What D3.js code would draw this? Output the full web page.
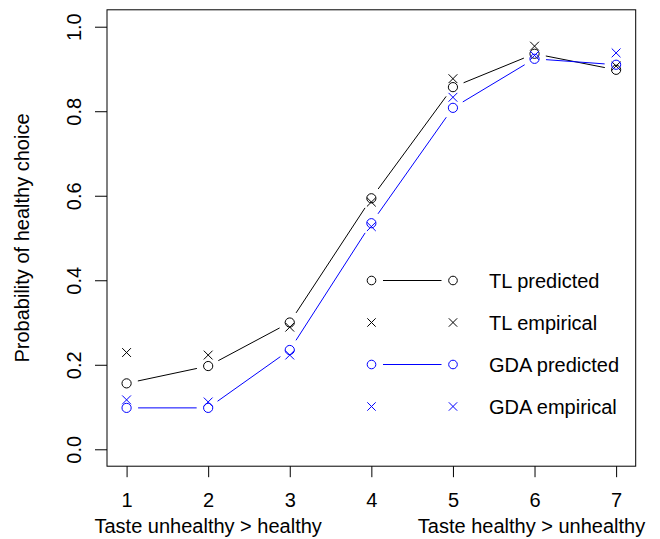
<!DOCTYPE html>
<html>
<head>
<meta charset="utf-8">
<script src="https://cdn.jsdelivr.net/npm/d3@7"></script>
<style>
  html, body { margin: 0; padding: 0; background: #fff; }
  svg { display: block; }
  text { font-family: "Liberation Sans", Arial, Helvetica, sans-serif; fill: #000; }
</style>
</head>
<body>
<svg id="chart" width="660" height="539"></svg>
<script>
// ---- data ----
const xValues = [1, 2, 3, 4, 5, 6, 7];
const tlPredicted  = [0.156, 0.197, 0.300, 0.594, 0.857, 0.936, 0.898];
const tlEmpirical  = [0.229, 0.223, 0.289, 0.585, 0.877, 0.954, 0.907];
const gdaPredicted = [0.098, 0.098, 0.235, 0.535, 0.808, 0.924, 0.910];
const gdaEmpirical = [0.117, 0.112, 0.223, 0.527, 0.833, 0.932, 0.938];
const yTicks = [0, 0.2, 0.4, 0.6, 0.8, 1.0];
const xTicks = [1, 2, 3, 4, 5, 6, 7];
const yLabel = "Probability of healthy choice";
const xLabelLeft = "Taste unhealthy > healthy";
const xLabelRight = "Taste healthy > unhealthy";
const legendLabels = ["TL predicted", "TL empirical", "GDA predicted", "GDA empirical"];

const BLACK = "#000000", BLUE = "#0000ff";
const FONT = 20;

const svg = d3.select("#chart");
const L = 107, R = 635.7, T = 9.8, B = 466.2;

const x = d3.scaleLinear().domain([0.76, 7.24]).range([L, R]);
const y = d3.scaleLinear().domain([-0.04, 1.04]).range([B, T]);

// ---- axes ----
const xAxis = d3.axisBottom(x).tickValues(xTicks).tickSize(11).tickFormat(d3.format("d"));
const gx = svg.append("g").attr("transform", `translate(0,${B})`).call(xAxis);
gx.select(".domain").remove();
gx.selectAll(".tick line").attr("stroke", BLACK);
gx.selectAll(".tick text").attr("y", 41).attr("dy", 0)
  .style("font-size", FONT + "px").style("font-family", "Liberation Sans, Arial, sans-serif").attr("fill", BLACK);

const yAxis = d3.axisLeft(y).tickValues(yTicks).tickSize(12).tickFormat(d3.format(".1f"));
const gy = svg.append("g").attr("transform", `translate(${L},0)`).call(yAxis);
gy.select(".domain").remove();
gy.selectAll(".tick line").attr("stroke", BLACK);
gy.selectAll(".tick text")
  .attr("x", null).attr("dy", null).attr("y", null)
  .attr("text-anchor", "middle")
  .attr("transform", "translate(-26,0) rotate(-90)")
  .style("font-size", FONT + "px").style("font-family", "Liberation Sans, Arial, sans-serif").attr("fill", BLACK);

// box
svg.append("rect").attr("x", L).attr("y", T).attr("width", R - L).attr("height", B - T)
  .attr("fill", "none").attr("stroke", BLACK).attr("stroke-width", 1);

// axis labels
svg.append("text").attr("transform", `translate(29,${(T + B) / 2}) rotate(-90)`)
  .attr("text-anchor", "middle").style("font-size", FONT + "px").text(yLabel);
svg.append("text").attr("x", x(2)).attr("y", 533).attr("text-anchor", "middle")
  .style("font-size", FONT + "px").text(xLabelLeft);
svg.append("text").attr("x", x(6) - 3).attr("y", 533).attr("text-anchor", "middle")
  .style("font-size", FONT + "px").text(xLabelRight);

// ---- marks ----
const GAP = 11.5;
function gappedLines(vals, color) {
  const pts = vals.map((v, i) => [x(xValues[i]), y(v)]);
  const g = svg.append("g");
  for (let i = 0; i < pts.length - 1; i++) {
    const [x1, y1] = pts[i], [x2, y2] = pts[i + 1];
    const dx = x2 - x1, dy = y2 - y1, len = Math.hypot(dx, dy);
    if (len <= 2 * GAP) continue;
    const ux = dx / len, uy = dy / len;
    g.append("line")
      .attr("x1", x1 + ux * GAP).attr("y1", y1 + uy * GAP)
      .attr("x2", x2 - ux * GAP).attr("y2", y2 - uy * GAP)
      .attr("stroke", color).attr("stroke-width", 1);
  }
}
function circles(vals, color, r) {
  svg.append("g").selectAll("circle").data(vals).join("circle")
    .attr("cx", (d, i) => x(xValues[i])).attr("cy", d => y(d)).attr("r", r)
    .attr("fill", "none").attr("stroke", color).attr("stroke-width", 1);
}
function crossPath(cx, cy, s) {
  return `M${cx - s},${cy - s}L${cx + s},${cy + s}M${cx - s},${cy + s}L${cx + s},${cy - s}`;
}
function crosses(vals, color, s) {
  svg.append("g").selectAll("path").data(vals).join("path")
    .attr("d", (d, i) => crossPath(x(xValues[i]), y(d), s))
    .attr("fill", "none").attr("stroke", color).attr("stroke-width", 1);
}

gappedLines(tlPredicted, BLACK);
gappedLines(gdaPredicted, BLUE);
circles(tlPredicted, BLACK, 4.6);
crosses(tlEmpirical, BLACK, 4.4);
circles(gdaPredicted, BLUE, 4.6);
crosses(gdaEmpirical, BLUE, 4.4);

// ---- legend ----
const legendRows = [
  { label: legendLabels[0], color: BLACK, type: "circle", line: true },
  { label: legendLabels[1], color: BLACK, type: "cross", line: false },
  { label: legendLabels[2], color: BLUE, type: "circle", line: true },
  { label: legendLabels[3], color: BLUE, type: "cross", line: false }
];
const legX1 = 371.5, legX2 = 453, legText = 489, legY0 = 280.5, legDy = 42;
const lg = svg.append("g");
legendRows.forEach((row, i) => {
  const cy = legY0 + i * legDy;
  [legX1, legX2].forEach(cx => {
    if (row.type === "circle") {
      lg.append("circle").attr("cx", cx).attr("cy", cy).attr("r", 4.3)
        .attr("fill", "none").attr("stroke", row.color).attr("stroke-width", 1);
    } else {
      lg.append("path").attr("d", crossPath(cx, cy, 4.2))
        .attr("fill", "none").attr("stroke", row.color).attr("stroke-width", 1);
    }
  });
  if (row.line) {
    lg.append("line").attr("x1", legX1 + GAP).attr("x2", legX2 - GAP)
      .attr("y1", cy).attr("y2", cy).attr("stroke", row.color).attr("stroke-width", 1);
  }
  lg.append("text").attr("x", legText).attr("y", cy).attr("dy", "0.35em")
    .style("font-size", FONT + "px").text(row.label);
});
</script>
</body>
</html>
